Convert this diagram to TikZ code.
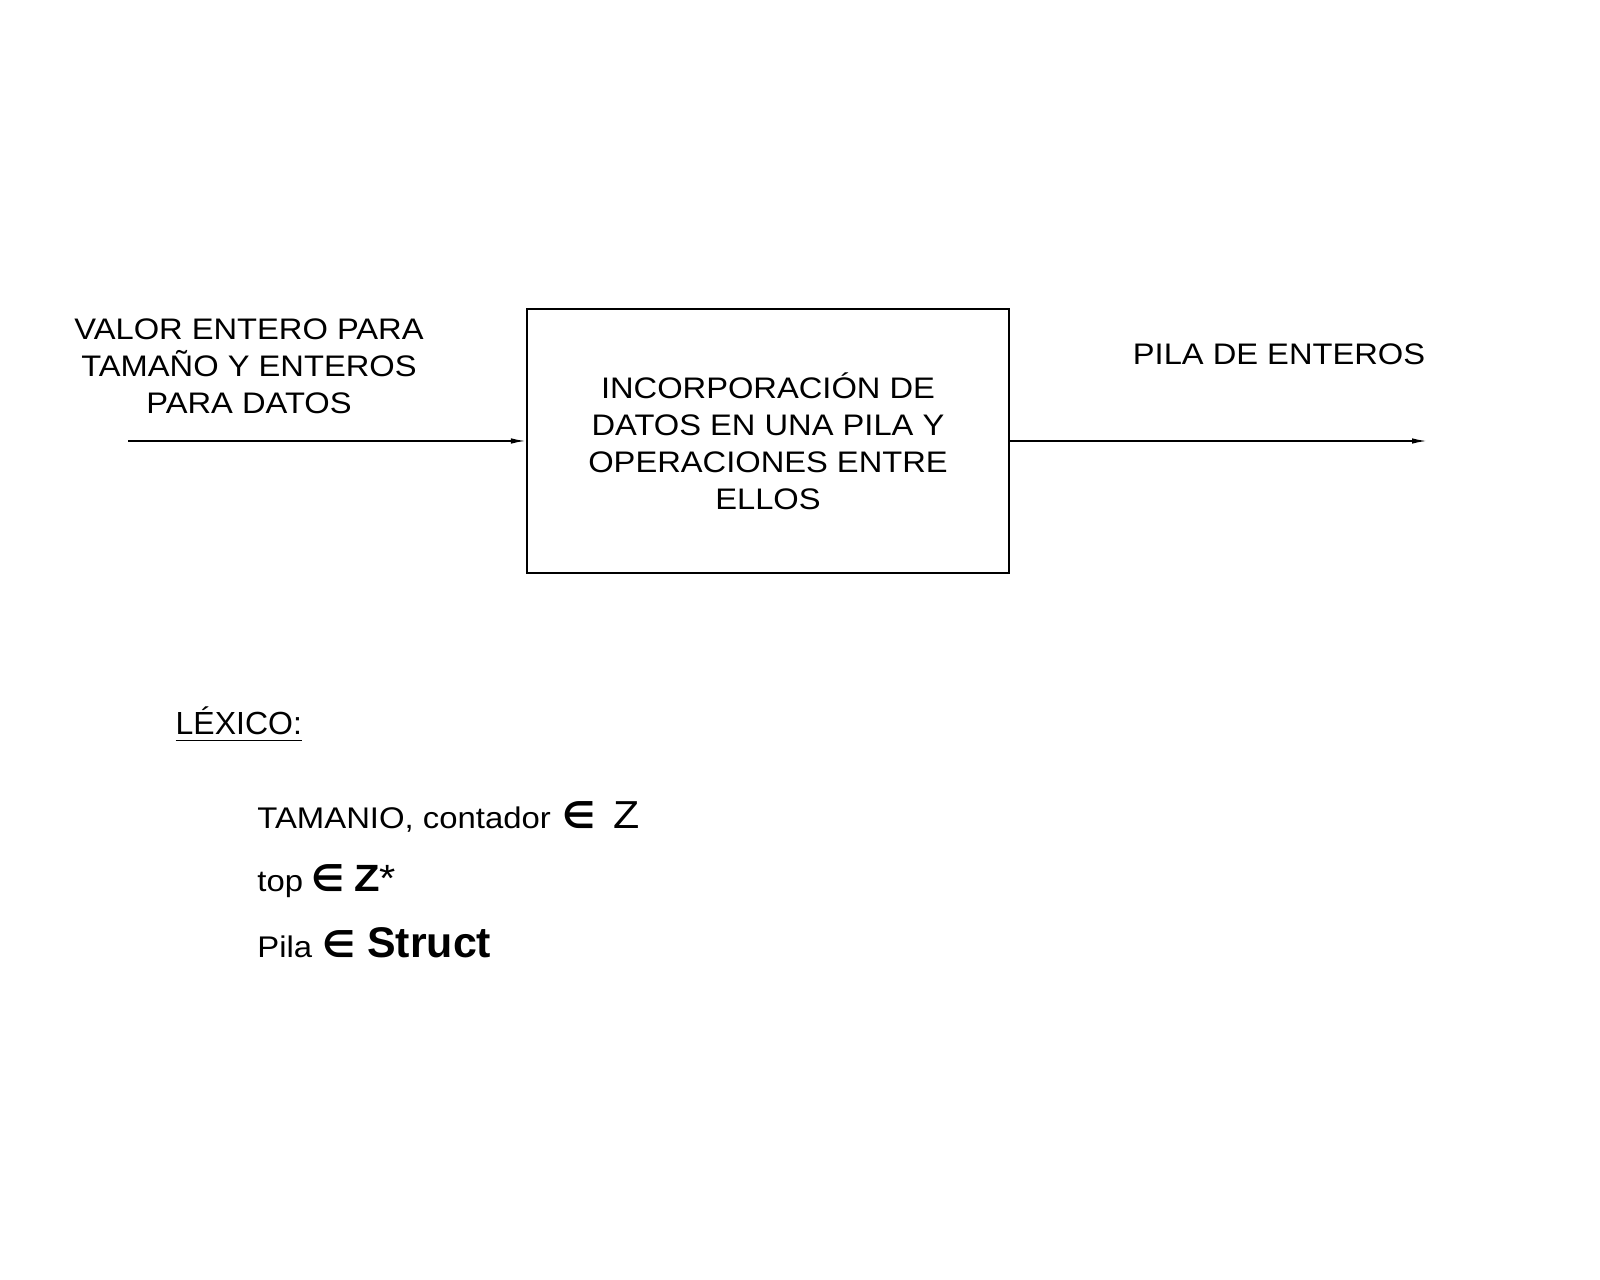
\documentclass[tikz,border=0pt]{standalone}
\usepackage{fontspec}
\setmainfont{Liberation Sans}[FakeStretch=1.1]
\newfontfamily\plana{Liberation Sans}
\newfontfamily\simbolo{DejaVu Sans}
\usepackage{tikz}
\usetikzlibrary{positioning}
\usetikzlibrary{arrows.meta}
\tikzstyle{proceso} = [rectangle, draw=black, line width=0.6pt, minimum width=4.82cm, minimum height=2.64cm, inner sep=0pt, align=center, font=\fontsize{8.45}{10.5}\selectfont]
\tikzstyle{etiqueta} = [align=center, inner sep=0pt, font=\fontsize{8.45}{10.6}\selectfont]
\tikzstyle{lexico} = [anchor=base west, inner sep=0pt, font=\fontsize{8.5}{10}\selectfont]
\tikzstyle{flecha} = [black, line width=0.45pt, -{Latex[length=1.5mm,width=0.55mm]}]
\newcommand{\pertenece}{{\simbolo\bfseries\fontsize{10.5}{12}\selectfont ∈}}

\begin{document}
\begin{tikzpicture}
	\useasboundingbox (0,0) rectangle (16,-12.8);

	\node (proc) at (7.68,-4.41) [proceso] {INCORPORACIÓN DE\\DATOS EN UNA PILA Y\\OPERACIONES ENTRE\\ELLOS};

	\node (entrada) at (2.49,-3.665) [etiqueta] {VALOR ENTERO PARA\\TAMAÑO Y ENTEROS\\PARA DATOS};
	\coordinate (inicio) at (1.28,-4.41);
	\draw [flecha] (inicio) -- (proc.west);

	\node (salida) at (12.79,-3.54) [etiqueta] {PILA DE ENTEROS};
	\coordinate (fin) at (14.27,-4.41);
	\draw [flecha] (proc.east) -- (fin);

	% lexico
	\node (titulo) at (1.75,-7.35) [anchor=base west, inner sep=0pt, font=\plana\fontsize{9.1}{10}\selectfont] {\underline{LÉXICO:}};
	\node (tamanio) at (2.567,-8.29) [lexico] {TAMANIO, contador\hspace{0.12cm}\pertenece\hspace{0.18cm}{\fontsize{11.1}{12}\selectfont Z}};
	\node (tope) at (2.567,-8.92) [lexico] {top\hspace{0.08cm}\pertenece\hspace{0.1cm}{\bfseries\fontsize{10.8}{12}\selectfont Z}{\fontsize{10.8}{12}\selectfont *}};
	\node (pila) at (2.567,-9.57) [lexico] {Pila\hspace{0.1cm}\pertenece\hspace{0.12cm}{\plana\bfseries\fontsize{12.2}{13}\selectfont Struct}};
\end{tikzpicture}
\end{document}
